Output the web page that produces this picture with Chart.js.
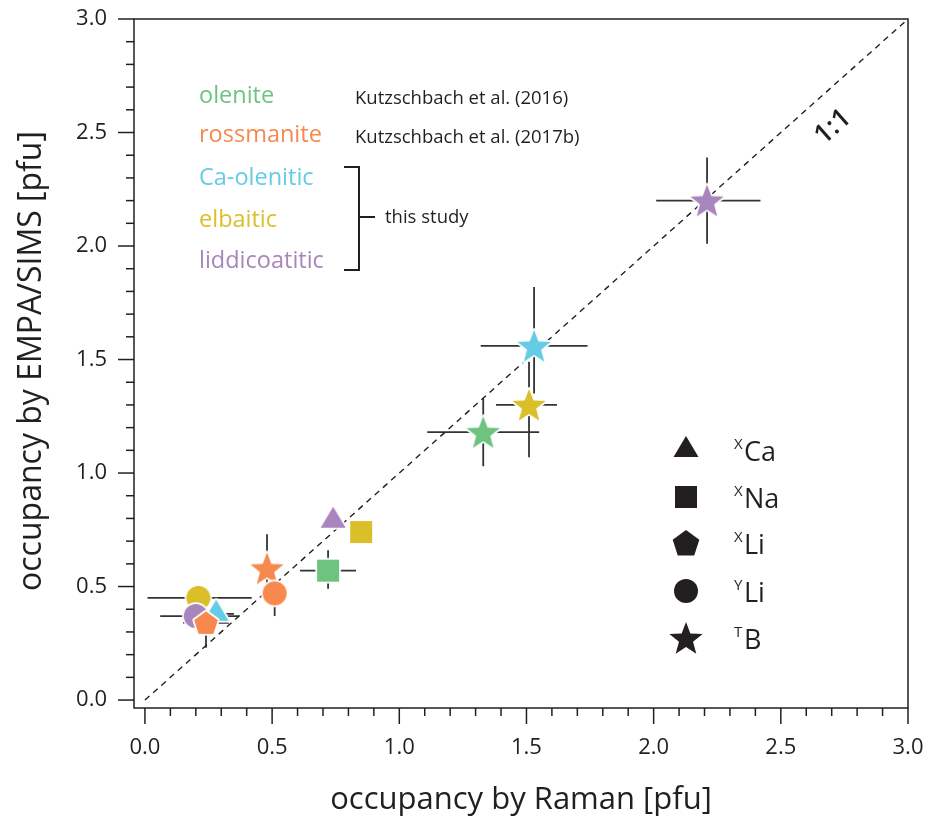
<!DOCTYPE html>
<html>
<head>
<meta charset="utf-8">
<script src="https://cdn.jsdelivr.net/npm/chart.js@4.4.0/dist/chart.umd.min.js"></script>
<style>
  html, body { margin: 0; padding: 0; background: #fff; }
  canvas { display: block; }
</style>
</head>
<body>
<canvas id="chart" width="929" height="823"></canvas>
<script>
// axis ticks
const xTickValues = [0.0, 0.5, 1.0, 1.5, 2.0, 2.5, 3.0];
const yTickValues = [0.0, 0.5, 1.0, 1.5, 2.0, 2.5, 3.0];

// 1:1 line
const oneToOneX = [0, 3];
const oneToOneY = [0, 3];

// olenite - Kutzschbach et al. (2016)
const oleniteX    = [1.33, 0.72];
const oleniteY    = [1.18, 0.57];
const oleniteSite = ['TB', 'XNa'];
const oleniteXErr = [[1.11, 1.55], [0.61, 0.83]];
const oleniteYErr = [[1.03, 1.33], [0.49, 0.66]];

// rossmanite - Kutzschbach et al. (2017b)
const rossmaniteX    = [0.48, 0.51, 0.24];
const rossmaniteY    = [0.58, 0.47, 0.34];
const rossmaniteSite = ['TB', 'YLi', 'XLi'];
const rossmaniteXErr = [null, null, [0.15, 0.33]];
const rossmaniteYErr = [[0.43, 0.73], [0.37, 0.56], [0.23, 0.44]];

// this study
const caOleniticX    = [1.53, 0.28];
const caOleniticY    = [1.56, 0.38];
const caOleniticSite = ['TB', 'XCa'];
const caOleniticXErr = [[1.32, 1.74], [0.21, 0.35]];
const caOleniticYErr = [[1.35, 1.82], null];

const elbaiticX    = [1.51, 0.85, 0.21];
const elbaiticY    = [1.30, 0.74, 0.45];
const elbaiticSite = ['TB', 'XNa', 'YLi'];
const elbaiticXErr = [[1.38, 1.62], null, [0.01, 0.42]];
const elbaiticYErr = [[1.07, 1.49], null, null];

const liddicoatiticX    = [2.21, 0.74, 0.20];
const liddicoatiticY    = [2.20, 0.79, 0.37];
const liddicoatiticSite = ['TB', 'XCa', 'YLi'];
const liddicoatiticXErr = [[2.01, 2.42], null, [0.06, 0.37]];
const liddicoatiticYErr = [[2.01, 2.39], null, null];

// site legend
const siteKeys = ['XCa', 'XNa', 'XLi', 'YLi', 'TB'];
const siteSup  = ['X', 'X', 'X', 'Y', 'T'];
const siteMain = ['Ca', 'Na', 'Li', 'Li', 'B'];

const COL = {
  olenite: '#6DC37F',
  rossmanite: '#F7894F',
  caOlenitic: '#65CCE6',
  elbaitic: '#DBBF2A',
  liddicoatitic: '#A886BD'
};
const INK = '#231f20';
const FONT = "'Open Sans', 'Noto Sans', sans-serif";

// marker shapes, by site
function shapePath(ctx, site, cx, cy, k) {
  ctx.beginPath();
  if (site === 'XCa') {
    ctx.moveTo(cx, cy - 14 * k);
    ctx.lineTo(cx + 12.5 * k, cy + 7 * k);
    ctx.lineTo(cx - 12.5 * k, cy + 7 * k);
    ctx.closePath();
  } else if (site === 'XNa') {
    ctx.rect(cx - 11 * k, cy - 11 * k, 22 * k, 22 * k);
  } else if (site === 'XLi') {
    const R = 12.5 * k;
    for (let i = 0; i < 5; i++) {
      const a = -Math.PI / 2 + i * 2 * Math.PI / 5;
      const px = cx + R * Math.cos(a), py = cy + 1 * k + R * Math.sin(a);
      i ? ctx.lineTo(px, py) : ctx.moveTo(px, py);
    }
    ctx.closePath();
  } else if (site === 'YLi') {
    ctx.arc(cx, cy, 12 * k, 0, Math.PI * 2);
  } else {
    const R = 17.5 * k, r = 7.4 * k;
    for (let i = 0; i < 10; i++) {
      const a = -Math.PI / 2 + i * Math.PI / 5;
      const rr = i % 2 ? r : R;
      const px = cx + rr * Math.cos(a), py = cy + 1.5 * k + rr * Math.sin(a);
      i ? ctx.lineTo(px, py) : ctx.moveTo(px, py);
    }
    ctx.closePath();
  }
}

const markerCache = {};
function marker(site, color) {
  const key = site + color;
  if (markerCache[key]) return markerCache[key];
  const cv = document.createElement('canvas');
  cv.width = 48; cv.height = 48;
  const c = cv.getContext('2d');
  shapePath(c, site, 24, 24, 1);
  c.lineJoin = 'round';
  c.lineWidth = 3.5;
  c.strokeStyle = '#fff';
  c.stroke();
  c.fillStyle = color;
  c.fill();
  markerCache[key] = cv;
  return cv;
}

function series(label, color, xs, ys, sites, xErr, yErr, order) {
  return {
    label: label,
    data: xs.map((x, i) => ({ x: x, y: ys[i] })),
    pointStyle: ctx => marker(sites[ctx.dataIndex], color),
    pointRadius: 12,
    pointHoverRadius: 12,
    backgroundColor: color,
    borderColor: color,
    showLine: false,
    xErr: xErr,
    yErr: yErr,
    order: order
  };
}

function line(ctx, x1, y1, x2, y2) {
  ctx.beginPath();
  ctx.moveTo(x1, y1);
  ctx.lineTo(x2, y2);
  ctx.stroke();
}

const errorBars = {
  id: 'errorBars',
  beforeDatasetsDraw(chart) {
    const ctx = chart.ctx, xs = chart.scales.x, ys = chart.scales.y;
    ctx.save();
    ctx.strokeStyle = '#333';
    ctx.lineWidth = 1.8;
    chart.data.datasets.forEach(ds => {
      if (!ds.xErr) return;
      ds.data.forEach((p, i) => {
        const px = xs.getPixelForValue(p.x), py = ys.getPixelForValue(p.y);
        const xe = ds.xErr[i], ye = ds.yErr[i];
        if (xe) line(ctx, xs.getPixelForValue(xe[0]), py, xs.getPixelForValue(xe[1]), py);
        if (ye) line(ctx, px, ys.getPixelForValue(ye[0]), px, ys.getPixelForValue(ye[1]));
      });
    });
    ctx.restore();
  }
};

const frameAndNotes = {
  id: 'frameAndNotes',
  afterDraw(chart) {
    const ctx = chart.ctx, a = chart.chartArea, xs = chart.scales.x, ys = chart.scales.y;
    ctx.save();
    // frame
    ctx.strokeStyle = INK;
    ctx.lineWidth = 1.5;
    ctx.strokeRect(a.left, a.top, a.right - a.left, a.bottom - a.top);
    // tick marks, every 0.1
    for (let i = 0; i <= 30; i++) {
      const v = i / 10, len = i % 5 === 0 ? 16 : 8;
      const px = xs.getPixelForValue(v);
      line(ctx, px, a.bottom, px, a.bottom + len);
      const py = ys.getPixelForValue(v);
      line(ctx, a.left, py, a.left - len, py);
    }

    // y axis title
    ctx.save();
    ctx.translate(32, 361);
    ctx.rotate(-Math.PI / 2);
    ctx.fillStyle = INK;
    ctx.font = '32px ' + FONT;
    ctx.textAlign = 'center';
    ctx.textBaseline = 'middle';
    ctx.fillText('occupancy by EMPA/SIMS [pfu]', 0, 0);
    ctx.restore();

    // "1:1"
    ctx.save();
    ctx.translate(833, 127);
    ctx.rotate(-Math.atan2(ys.getPixelForValue(0) - ys.getPixelForValue(3), xs.getPixelForValue(3) - xs.getPixelForValue(0)));
    ctx.fillStyle = INK;
    ctx.font = '600 27px ' + FONT;
    ctx.textAlign = 'center';
    ctx.textBaseline = 'middle';
    ctx.fillText('1:1', 0, 0);
    ctx.restore();

    // mineral legend
    ctx.textAlign = 'left';
    ctx.textBaseline = 'alphabetic';
    const names = [['olenite', COL.olenite, 103], ['rossmanite', COL.rossmanite, 142],
                   ['Ca-olenitic', COL.caOlenitic, 185], ['elbaitic', COL.elbaitic, 227],
                   ['liddicoatitic', COL.liddicoatitic, 268]];
    ctx.font = '23.5px ' + FONT;
    names.forEach(n => { ctx.fillStyle = n[1]; ctx.fillText(n[0], 199, n[2]); });
    ctx.fillStyle = INK;
    ctx.font = '18.5px ' + FONT;
    ctx.fillText('Kutzschbach et al. (2016)', 355, 104);
    ctx.fillText('Kutzschbach et al. (2017b)', 355, 143);
    ctx.fillText('this study', 385, 223);
    // bracket
    ctx.lineWidth = 2;
    ctx.beginPath();
    ctx.moveTo(344, 167); ctx.lineTo(359, 167); ctx.lineTo(359, 270); ctx.lineTo(344, 270);
    ctx.moveTo(359, 217); ctx.lineTo(375, 217);
    ctx.stroke();

    // site legend
    const rowY = [450, 497, 543, 591, 638];
    siteKeys.forEach((s, i) => {
      ctx.fillStyle = INK;
      shapePath(ctx, s, 686, rowY[i], s === 'XLi' ? 1.12 : 1);
      ctx.fill();
      ctx.font = '15px ' + FONT;
      ctx.fillText(siteSup[i], 734, rowY[i] - 1);
      ctx.font = '27px ' + FONT;
      ctx.fillText(siteMain[i], 744, rowY[i] + 11);
    });
    ctx.restore();
  }
};

new Chart(document.getElementById('chart'), {
  type: 'scatter',
  data: {
    datasets: [
      {
        label: '1:1',
        type: 'line',
        data: oneToOneX.map((x, i) => ({ x: x, y: oneToOneY[i] })),
        borderColor: INK,
        borderWidth: 1.4,
        borderDash: [6, 5],
        pointRadius: 0,
        fill: false,
        order: 10
      },
      series('olenite', COL.olenite, oleniteX, oleniteY, oleniteSite, oleniteXErr, oleniteYErr, 4),
      series('rossmanite', COL.rossmanite, rossmaniteX, rossmaniteY, rossmaniteSite, rossmaniteXErr, rossmaniteYErr, 0),
      series('Ca-olenitic', COL.caOlenitic, caOleniticX, caOleniticY, caOleniticSite, caOleniticXErr, caOleniticYErr, 1),
      series('elbaitic', COL.elbaitic, elbaiticX, elbaiticY, elbaiticSite, elbaiticXErr, elbaiticYErr, 3),
      series('liddicoatitic', COL.liddicoatitic, liddicoatiticX, liddicoatiticY, liddicoatiticSite, liddicoatiticXErr, liddicoatiticYErr, 2)
    ]
  },
  options: {
    responsive: false,
    animation: false,
    events: [],
    layout: { padding: { left: 0, right: 21, top: 19, bottom: 0 } },
    plugins: { legend: { display: false }, tooltip: { enabled: false } },
    scales: {
      x: {
        type: 'linear',
        min: -0.043,
        max: 3.0,
        afterBuildTicks: ax => { ax.ticks = xTickValues.map(v => ({ value: v })); },
        afterFit: ax => { ax.height = 115; ax.paddingLeft = 0; ax.paddingRight = 0; },
        grid: { display: false, drawTicks: false },
        border: { display: false },
        ticks: { color: INK, font: { family: FONT, size: 22 }, padding: 27, callback: v => v.toFixed(1) },
        title: { display: true, text: 'occupancy by Raman [pfu]', color: INK, font: { family: FONT, size: 31 }, padding: { bottom: 4 } }
      },
      y: {
        type: 'linear',
        min: -0.035,
        max: 3.0,
        afterBuildTicks: ax => { ax.ticks = yTickValues.map(v => ({ value: v })); },
        afterFit: ax => { ax.width = 134; ax.paddingTop = 0; ax.paddingBottom = 0; },
        grid: { display: false, drawTicks: false },
        border: { display: false },
        ticks: { color: INK, font: { family: FONT, size: 22 }, padding: 27, callback: v => v.toFixed(1) },
        title: { display: false }
      }
    }
  },
  plugins: [errorBars, frameAndNotes]
});
</script>
</body>
</html>
